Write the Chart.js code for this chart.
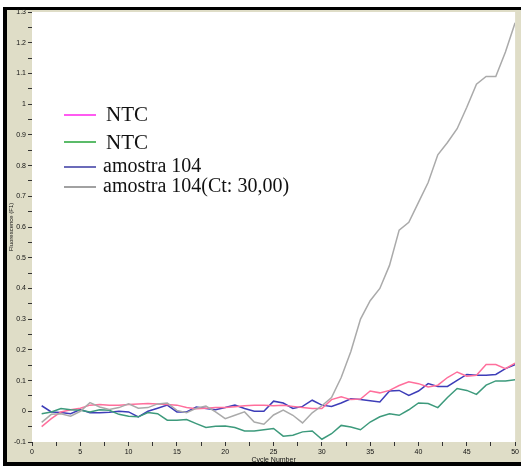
<!DOCTYPE html>
<html>
<head>
<meta charset="utf-8">
<script src="https://cdn.jsdelivr.net/npm/chart.js@4/dist/chart.umd.min.js"></script>
<style>
  html, body { margin: 0; padding: 0; background: #ffffff; }
  #wrap { position: absolute; left: 0; top: 0; width: 521px; height: 466px; }
</style>
</head>
<body>
<div id="wrap"><canvas id="c" width="521" height="466"></canvas></div>
<script>
// Amplification curves: fluorescence per cycle
const cycles = Array.from({ length: 50 }, (_, i) => i + 1);

const ntcPink = [
  -0.050, -0.024, -0.002, 0.005, 0.010, 0.020, 0.022, 0.020, 0.020, 0.022,
   0.024,  0.025,  0.024, 0.022, 0.020, 0.012, 0.008, 0.010, 0.012, 0.012,
   0.015,  0.018,  0.020, 0.020, 0.018, 0.020, 0.016, 0.012, 0.009, 0.009,
   0.038,  0.047,  0.038, 0.040, 0.066, 0.060, 0.068, 0.084, 0.096, 0.090,
   0.079,  0.085,  0.110, 0.128, 0.114, 0.117, 0.152, 0.152, 0.139, 0.157
];

const ntcGreen = [
  -0.008, -0.002,  0.009,  0.005,  0.003, -0.002,  0.005,  0.003, -0.010, -0.016,
  -0.018, -0.004, -0.008, -0.029, -0.029, -0.027, -0.040, -0.053, -0.049, -0.048,
  -0.053, -0.064, -0.064, -0.060, -0.056, -0.081, -0.078, -0.067, -0.064, -0.091,
  -0.073, -0.046, -0.051, -0.060, -0.035, -0.018, -0.008, -0.013,  0.005,  0.027,
   0.025,  0.012,  0.045,  0.074,  0.068,  0.055,  0.085,  0.099,  0.099,  0.103
];

const amostraBlue = [
   0.018, -0.002, -0.004, -0.008,  0.006, -0.005, -0.005, -0.003,  0.000, -0.002,
  -0.018,  0.000,  0.010,  0.020, -0.002, -0.002,  0.014,  0.009,  0.005,  0.012,
   0.020,  0.009,  0.000,  0.000,  0.033,  0.027,  0.009,  0.016,  0.036,  0.020,
   0.016,  0.027,  0.041,  0.038,  0.034,  0.030,  0.066,  0.068,  0.052,  0.066,
   0.090,  0.081,  0.081,  0.101,  0.120,  0.117,  0.117,  0.120,  0.139,  0.152
];

const amostraCt = [
  -0.036, -0.010, -0.008, -0.016,  0.000,  0.028,  0.014,  0.006,  0.012,  0.024,
   0.010,  0.012,  0.024,  0.027,  0.003, -0.005,  0.010,  0.017, -0.002, -0.024,
  -0.013, -0.002, -0.035, -0.042, -0.012,  0.004, -0.013, -0.038, -0.005,  0.018,
   0.045,  0.110,  0.195,  0.300,  0.360,  0.400,  0.475,  0.590,  0.615,  0.680,
   0.745,  0.835,  0.875,  0.920,  0.990,  1.065,  1.090,  1.090,  1.170,  1.265
];

const seriesNames = ['NTC', 'NTC', 'amostra 104', 'amostra 104(Ct: 30,00)'];
const yTitle = 'Fluorescence (F1)';
const xTitle = 'Cycle Number';

const toPoints = vals => cycles.map((c, i) => ({ x: c, y: vals[i] }));

// Window frame, beige panel and white plot area
const framePlugin = {
  id: 'frame',
  beforeDraw(chart) {
    const ctx = chart.ctx;
    const a = chart.chartArea;
    ctx.save();
    ctx.fillStyle = '#ffffff';
    ctx.fillRect(0, 0, 521, 466);
    ctx.fillStyle = '#dfddc7';
    ctx.fillRect(7, 10, 514, 452);
    ctx.fillStyle = '#000000';
    ctx.fillRect(3, 7, 518, 3);
    ctx.fillRect(3, 7, 4, 459);
    ctx.fillRect(3, 462, 518, 4);
    ctx.fillStyle = '#ffffff';
    ctx.fillRect(a.left, a.top, a.right - a.left, a.bottom - a.top);
    ctx.restore();
  }
};

// Annotation key drawn inside the plot
const keyPlugin = {
  id: 'key',
  afterDraw(chart) {
    const ctx = chart.ctx;
    const rows = [
      { color: '#ff33ee', y: 115, base: 121, font: '21px "Liberation Serif"' },
      { color: '#33aa44', y: 142, base: 149, font: '21px "Liberation Serif"' },
      { color: '#4646a8', y: 167, base: 172, font: '20px "Liberation Serif"' },
      { color: '#8a8a8a', y: 187, base: 192, font: '20px "Liberation Serif"' }
    ];
    const textX = [106, 106, 103, 103];
    ctx.save();
    rows.forEach((r, i) => {
      ctx.strokeStyle = r.color;
      ctx.lineWidth = 1.6;
      ctx.beginPath();
      ctx.moveTo(64, r.y);
      ctx.lineTo(96, r.y);
      ctx.stroke();
      ctx.fillStyle = '#111111';
      ctx.font = r.font;
      ctx.textBaseline = 'alphabetic';
      ctx.fillText(seriesNames[i], textX[i], r.base);
    });
    ctx.restore();
  }
};

const lineStyle = (label, color, vals) => ({
  label,
  data: toPoints(vals),
  borderColor: color,
  borderWidth: 1.5,
  pointRadius: 0,
  tension: 0,
  fill: false
});

new Chart(document.getElementById('c'), {
  type: 'line',
  data: {
    datasets: [
      lineStyle(seriesNames[3], '#aaaaaa', amostraCt),
      lineStyle(seriesNames[1], '#3d9a7c', ntcGreen),
      lineStyle(seriesNames[0], '#ff6f9c', ntcPink),
      lineStyle(seriesNames[2], '#3d3db8', amostraBlue)
    ]
  },
  options: {
    responsive: false,
    animation: false,
    events: [],
    layout: { padding: { left: 7, top: 12, right: 4, bottom: 2 } },
    plugins: { legend: { display: false }, tooltip: { enabled: false } },
    scales: {
      x: {
        type: 'linear',
        min: 0,
        max: 50,
        afterFit: s => { s.height = 22; },
        border: { display: false },
        grid: { drawOnChartArea: false, drawTicks: true, tickLength: 4, color: '#333333' },
        ticks: {
          stepSize: 2.5,
          padding: 2,
          autoSkip: false,
          maxRotation: 0,
          color: '#111111',
          font: { family: 'Liberation Sans', size: 7 },
          callback: v => (Math.abs(v % 5) < 1e-6 ? String(v) : '')
        },
        title: {
          display: true,
          text: xTitle,
          color: '#111111',
          font: { family: 'Liberation Sans', size: 7 },
          padding: { top: 0, bottom: 0 }
        }
      },
      y: {
        type: 'linear',
        min: -0.1,
        max: 1.3,
        afterFit: s => { s.width = 25; },
        border: { display: false },
        grid: { drawOnChartArea: false, drawTicks: true, tickLength: 4, color: '#333333' },
        ticks: {
          stepSize: 0.05,
          padding: 2,
          autoSkip: false,
          color: '#111111',
          font: { family: 'Liberation Sans', size: 7 },
          callback: v => {
            const k = Math.round(v * 20);
            return k % 2 === 0 ? String(Number((k / 20).toFixed(1))) : '';
          }
        },
        title: {
          display: true,
          text: yTitle,
          color: '#111111',
          font: { family: 'Liberation Sans', size: 6 },
          padding: { top: 1, bottom: 0 }
        }
      }
    }
  },
  plugins: [framePlugin, keyPlugin]
});
</script>
</body>
</html>
